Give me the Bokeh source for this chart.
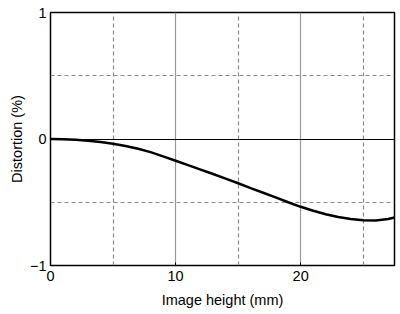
from bokeh.plotting import figure
from bokeh.models import FixedTicker, Grid, Range1d
from bokeh.embed import file_html
from bokeh.resources import INLINE

image_height = [0, 1, 2, 3, 4, 5, 6, 7, 8, 9, 10, 11, 12, 13, 14, 15, 16, 17, 18, 19,
                20, 21, 22, 23, 24, 25, 26, 27, 27.5]
distortion = [0, -0.002, -0.006, -0.013, -0.023, -0.037, -0.055, -0.077, -0.104, -0.137,
              -0.172, -0.207, -0.242, -0.277, -0.313, -0.35, -0.388, -0.425, -0.462, -0.5,
              -0.536, -0.567, -0.595, -0.617, -0.633, -0.642, -0.644, -0.633, -0.621]

x_ticks = [0, 10, 20]
y_ticks = [-1, 0, 1]
x_solid_grid = [10, 20]
x_dash_grid = [5, 15, 25]
y_solid_grid = [0]
y_dash_grid = [-0.5, 0.5]

FONT = "Liberation Sans"

p = figure(width=400, height=314, output_backend="svg", toolbar_location=None,
           x_range=Range1d(0, 27.5), y_range=Range1d(-1, 1),
           min_border_left=50, min_border_right=6, min_border_top=12, min_border_bottom=49)
p.outline_line_color = "black"
p.outline_line_width = 1.5
p.background_fill_color = "white"

p.xgrid.visible = False
p.ygrid.visible = False

for dim, ticks, color, dash in [
    (0, x_dash_grid, "#8a8a8a", "4 3"),
    (1, y_dash_grid, "#8a8a8a", "4 3"),
    (0, x_solid_grid, "#999999", "solid"),
    (1, y_solid_grid, "black", "solid"),
]:
    g = Grid(dimension=dim, ticker=FixedTicker(ticks=ticks),
             grid_line_color=color, grid_line_dash=dash, grid_line_width=1.2)
    p.add_layout(g, "center")

p.line(image_height, distortion, line_color="black", line_width=2.5)

for ax in (p.xaxis[0], p.yaxis[0]):
    ax.axis_line_color = None
    ax.major_tick_line_color = None
    ax.minor_tick_line_color = None
    ax.major_tick_out = 0
    ax.major_tick_in = 0
    ax.minor_tick_out = 0
    ax.minor_tick_in = 0
    ax.major_label_text_font = FONT
    ax.major_label_text_font_size = "14.5px"
    ax.major_label_text_color = "black"
    ax.axis_label_text_font = FONT
    ax.axis_label_text_font_size = "14.5px"
    ax.axis_label_text_font_style = "normal"
    ax.axis_label_text_color = "black"

p.xaxis.major_tick_line_color = "black"
p.xaxis.major_tick_in = 3

p.xaxis.ticker = FixedTicker(ticks=x_ticks)
p.yaxis.ticker = FixedTicker(ticks=y_ticks)
p.xaxis.axis_label = "Image height (mm)"
p.yaxis.axis_label = "Distortion (%)"
p.xaxis.major_label_standoff = 5
p.yaxis.major_label_standoff = 4
p.xaxis.axis_label_standoff = 8
p.yaxis.axis_label_standoff = 2

open("out.html", "w").write(file_html(p, INLINE))
